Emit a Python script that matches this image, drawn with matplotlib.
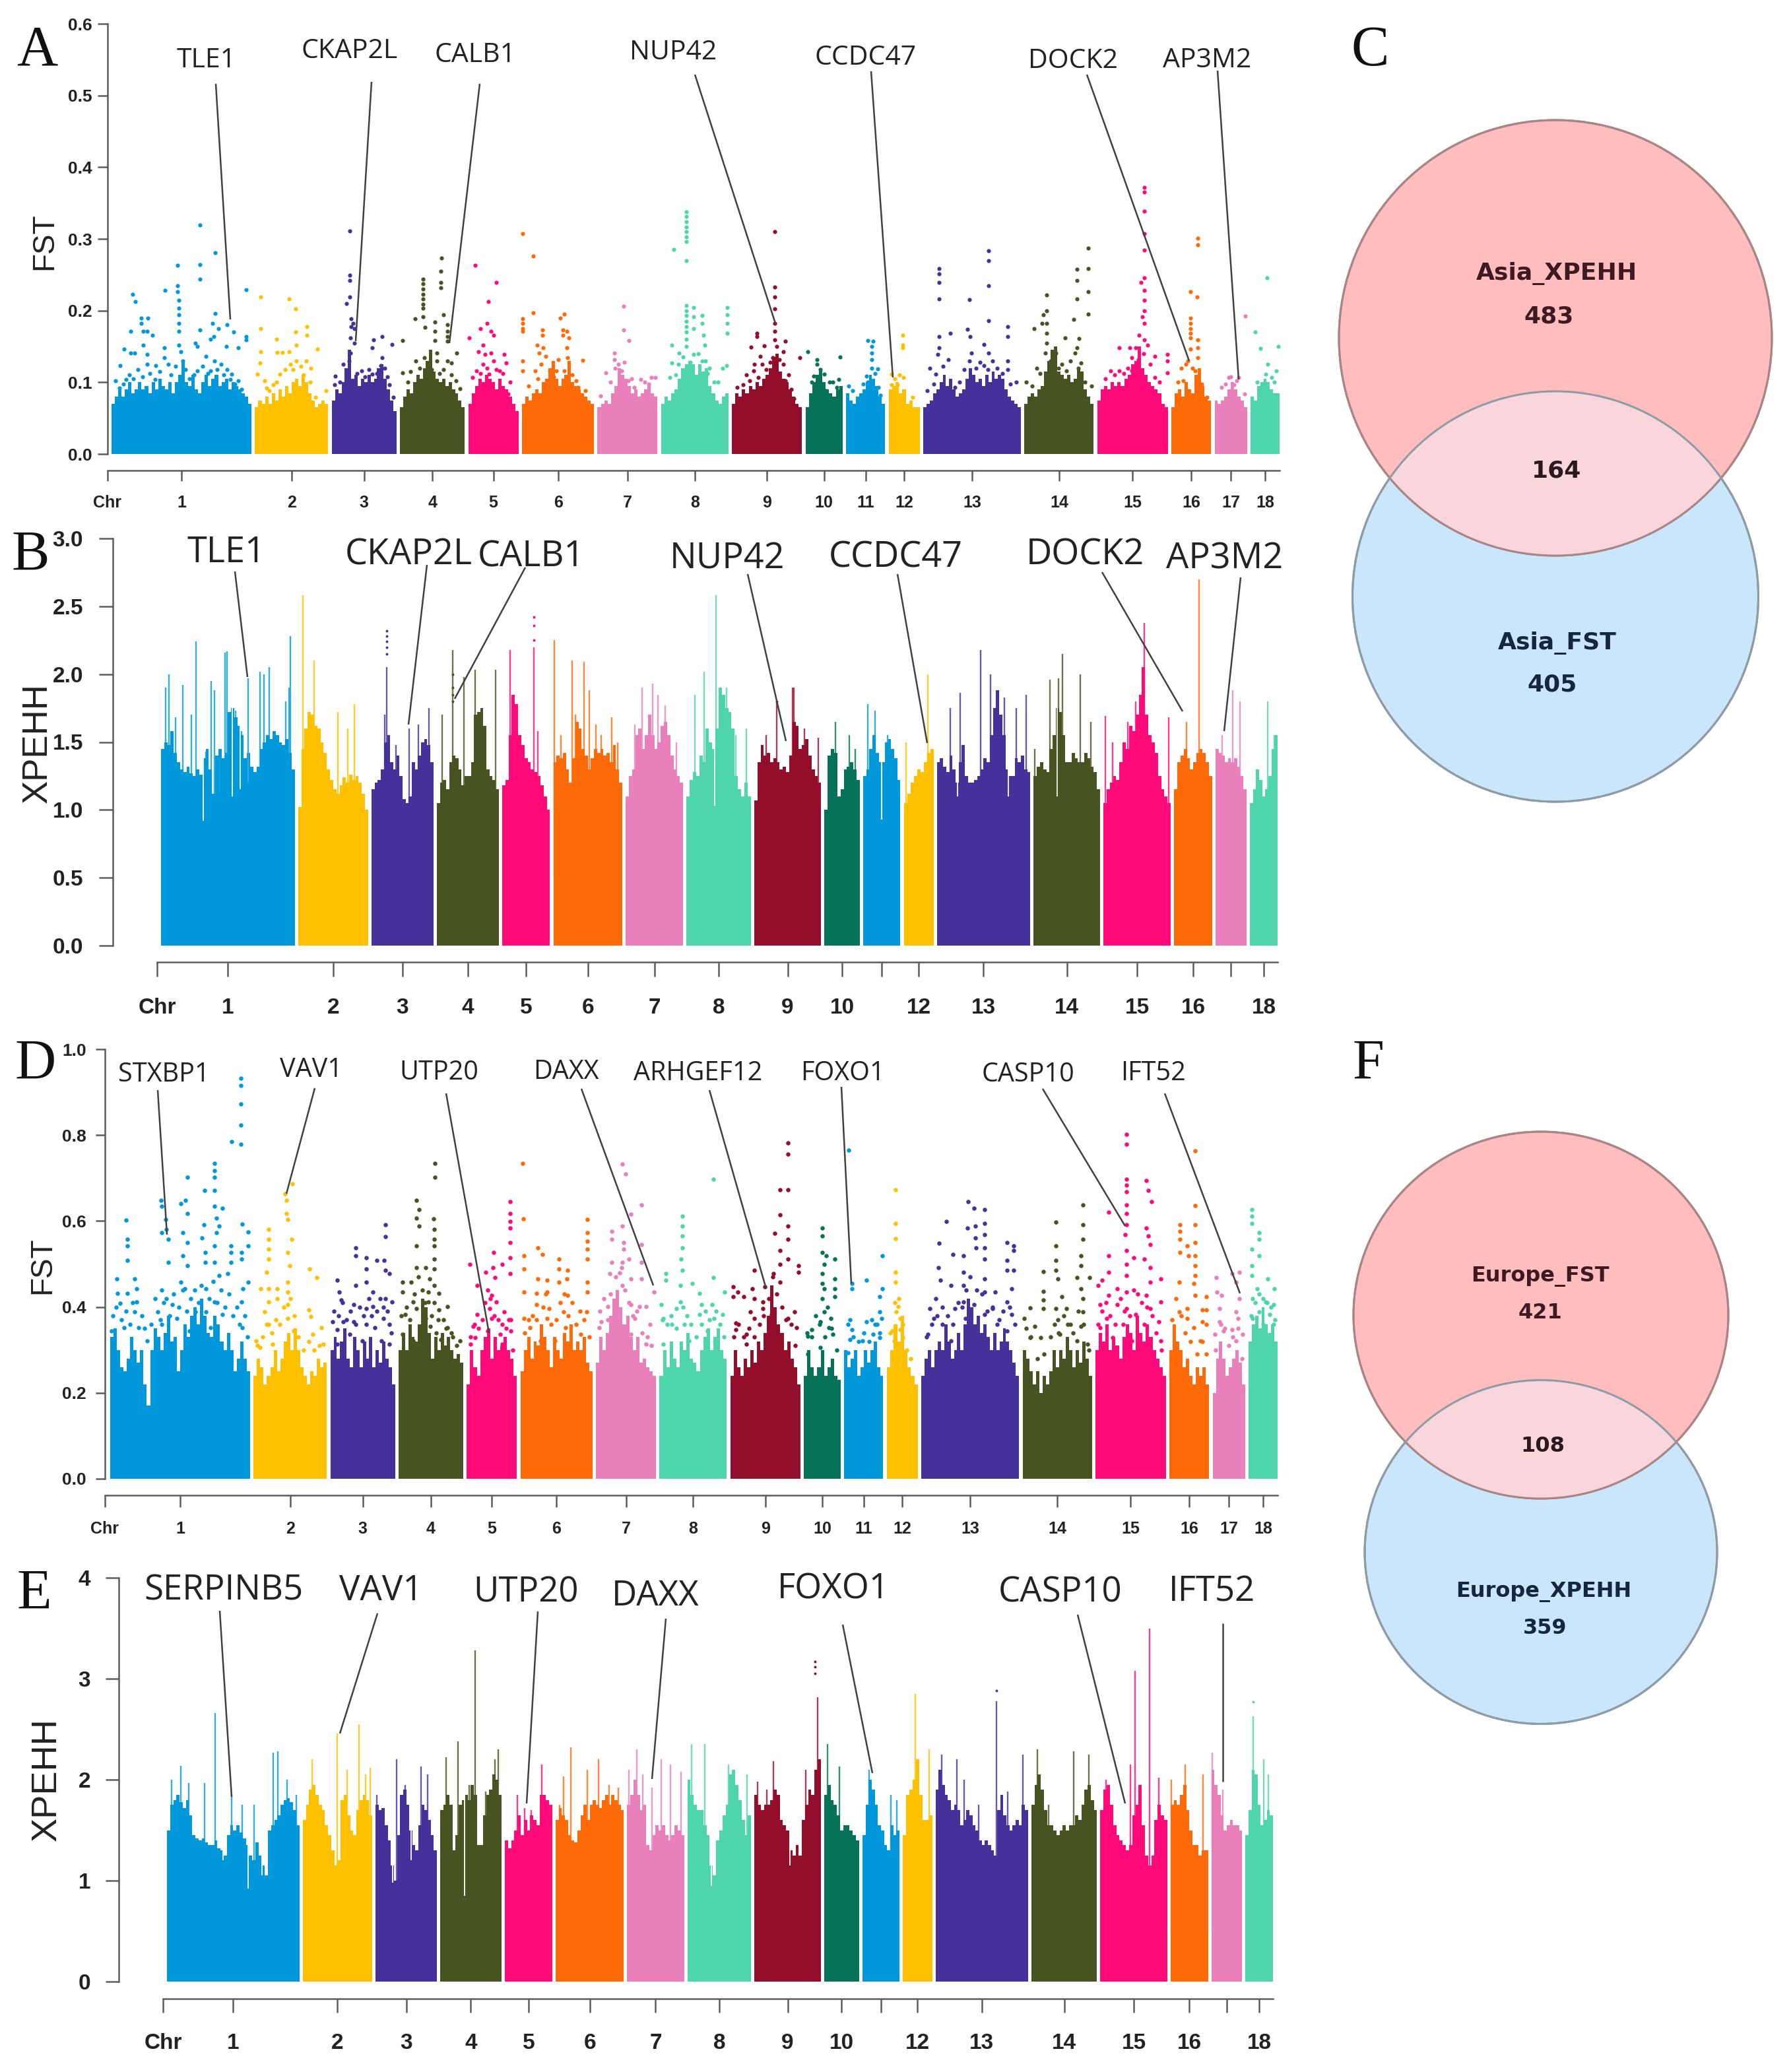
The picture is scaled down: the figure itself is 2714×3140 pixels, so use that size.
import numpy as np
import matplotlib
matplotlib.use("Agg")
import matplotlib.pyplot as plt
from matplotlib.patches import Ellipse

# chromosomes
chr_names = [str(i) for i in range(1, 19)]
chr_sizes = [212, 111, 98, 98, 76, 109, 91, 102, 106, 56, 59, 47, 148, 105, 107, 60, 49, 44]
chr_colors = ["#0098DB", "#FFC000", "#46309A", "#475321", "#FF0A78", "#FF6A08", "#E97FBB", "#4FD5AC", "#930E2B",
              "#067358", "#0098DB", "#FFC000", "#46309A", "#475321", "#FF0A78", "#FF6A08", "#E97FBB", "#4FD5AC"]

# panel A, FST. tops = solid body per bin, dots = (position on chromosome, value)
a_tops = [
    [.07, .08, .09, .08, .09, .10, .085, .09, .10, .09, .095, .085, .10, .09, .105, .095, .09, .10, .085, .10, .11, .13, .10, .095, .11, .09, .085, .10, .11, .095, .105, .11, .095, .10, .105, .09, .10, .095, .09, .085, .08, .07],
    [.065, .075, .07, .08, .07, .085, .075, .09, .08, .095, .085, .10, .105, .095, .11, .10, .085, .075, .065, .07, .075, .07],
    [.075, .09, .085, .10, .12, .145, .105, .11, .095, .105, .10, .11, .10, .105, .12, .125, .105, .09, .075, .06],
    [.065, .08, .09, .085, .10, .11, .105, .12, .13, .145, .115, .105, .10, .105, .095, .10, .09, .085, .075, .065],
    [.07, .085, .095, .105, .10, .11, .105, .10, .09, .105, .095, .09, .08, .07, .06],
    [.07, .08, .075, .085, .09, .085, .10, .105, .12, .13, .105, .095, .105, .11, .13, .10, .095, .09, .085, .08, .075, .07],
    [.065, .07, .075, .07, .085, .095, .12, .11, .105, .095, .085, .09, .08, .085, .09, .095, .085, .08],
    [.07, .08, .075, .085, .09, .105, .12, .125, .13, .125, .11, .125, .115, .12, .095, .085, .075, .07, .08, .085],
    [.07, .085, .08, .09, .085, .095, .09, .10, .095, .105, .11, .12, .135, .14, .115, .105, .10, .09, .08, .07, .065],
    [.065, .085, .10, .11, .12, .10, .09, .085, .08, .09, .095],
    [.085, .075, .07, .08, .085, .09, .10, .11, .105, .095, .08, .07],
    [.09, .095, .10, .085, .09, .07, .075, .065, .065],
    [.065, .07, .075, .085, .09, .10, .11, .095, .105, .09, .08, .085, .09, .105, .12, .11, .10, .105, .095, .11, .10, .115, .105, .11, .105, .09, .08, .075, .07, .065],
    [.07, .08, .085, .08, .09, .095, .115, .13, .145, .15, .115, .11, .105, .11, .10, .105, .12, .115, .09, .08, .07],
    [.075, .09, .095, .09, .10, .095, .10, .095, .105, .11, .125, .13, .15, .12, .11, .10, .095, .09, .085, .07, .065],
    [.065, .085, .09, .08, .10, .09, .085, .11, .12, .095, .08, .075],
    [.075, .07, .075, .08, .09, .10, .09, .08, .075, .065],
    [.08, .075, .095, .10, .105, .10, .09, .085, .085],
]
a_dots = [
    [(134, .319), (100, .263), (134, .264), (134, .244), (157, .281), (204, .229), (81, .228), (100, .235), (32, .223), (36, .213),
     (100, .226), (102, .214), (102, .203), (102, .194), (102, .182), (102, .171), (102, .152), (45, .19), (55, .19), (45, .182),
     (54, .171), (29, .171), (62, .166), (48, .171), (157, .196), (175, .18), (153, .182), (162, .175), (134, .173), (155, .164),
     (150, .16), (185, .17), (204, .164), (204, .159), (127, .155), (130, .15), (174, .15), (192, .148), (19, .146), (13, .123),
     (29, .141), (35, .141), (48, .152), (54, .139), (80, .148), (80, .134), (54, .125), (67, .123), (86, .125), (6, .102),
     (22, .104), (105, .143), (108, .13), (143, .136), (156, .13), (166, .125), (175, .118), (182, .111), (192, .102), (130, .116), (150, .116),
     (12, .092), (18, .098), (27, .11), (33, .105), (40, .118), (47, .108), (58, .112), (66, .104), (73, .115), (90, .11), (97, .122), (112, .118),
     (118, .105), (125, .11), (138, .122), (146, .112), (160, .118), (170, .11), (180, .104), (187, .098), (197, .09)],
    [(9, .219), (52, .216), (62, .202), (9, .175), (79, .178), (62, .17), (33, .16), (79, .166), (95, .146), (9, .143), (34, .142),
     (42, .142), (52, .143), (63, .152), (63, .13), (78, .13), (54, .125), (8, .127), (4, .111), (15, .102), (38, .111), (28, .097),
     (85, .12), (108, .088), (92, .079), (22, .088), (46, .118), (58, .118), (70, .122), (74, .11), (84, .1), (18, .092), (33, .1)],
    [(27, .311), (27, .249), (27, .242), (27, .219), (22, .21), (29, .189), (32, .182), (29, .178), (34, .175), (28, .162), (34, .155),
     (63, .159), (76, .164), (91, .153), (61, .148), (28, .141), (26, .13), (17, .125), (5, .109), (4, .097), (76, .134), (74, .123),
     (45, .116), (61, .111), (87, .097), (93, .079), (38, .112), (50, .108), (56, .118), (68, .112), (80, .12), (84, .108), (12, .1)],
    [(4, .158), (23, .189), (35, .191), (35, .244), (35, .237), (35, .23), (35, .223), (35, .216), (35, .209), (35, .203), (63, .273),
     (62, .255), (62, .239), (62, .232), (66, .194), (53, .184), (38, .177), (53, .171), (72, .18), (72, .171), (72, .164), (72, .157),
     (53, .158), (86, .141), (56, .141), (56, .13), (72, .13), (78, .127), (4, .113), (24, .13), (37, .134), (66, .118), (85, .102), (91, .091),
     (16, .115), (30, .12), (48, .118), (60, .112), (78, .11), (12, .1)],
    [(10, .263), (42, .239), (30, .213), (28, .182), (18, .175), (1, .162), (34, .171), (38, .166), (22, .152), (15, .143), (25, .139),
     (34, .141), (54, .139), (57, .127), (38, .13), (22, .125), (12, .116), (6, .107), (47, .116), (31, .111), (63, .1), (60, .084),
     (42, .118), (52, .112), (28, .12), (18, .112)],
    [(1, .307), (17, .276), (17, .197), (1, .189), (1, .182), (1, .175), (1, .171), (64, .195), (58, .19), (31, .173), (31, .166), (62, .173),
     (68, .171), (62, .166), (71, .162), (68, .148), (23, .152), (32, .148), (26, .141), (36, .136), (55, .132), (69, .134), (92, .131),
     (1, .13), (1, .116), (29, .125), (42, .116), (20, .116), (52, .116), (64, .116), (96, .088), (85, .093), (10, .095), (24, .105), (48, .108),
     (76, .11), (82, .102)],
    [(40, .206), (40, .173), (48, .158), (26, .141), (26, .132), (41, .128), (13, .113), (27, .12), (37, .116), (47, .102), (82, .107),
     (66, .104), (56, .093), (5, .081), (88, .107), (20, .1), (32, .125), (52, .105), (72, .1), (78, .098)],
    [(38, .338), (38, .331), (38, .324), (38, .317), (38, .31), (38, .303), (38, .296), (38, .27), (19, .285), (38, .207), (38, .2), (38, .193),
     (38, .185), (38, .178), (38, .17), (38, .16), (38, .15), (49, .204), (49, .191), (49, .175), (62, .193), (62, .182), (100, .204), (100, .194),
     (100, .182), (100, .168), (64, .166), (66, .152), (16, .152), (27, .141), (16, .127), (26, .125), (49, .139), (67, .13), (73, .12), (93, .12),
     (99, .123), (86, .1), (13, .107), (22, .11), (33, .135), (44, .128), (56, .14), (62, .13), (70, .112), (80, .1)],
    [(65, .31), (65, .233), (65, .219), (65, .202), (65, .182), (65, .171), (38, .168), (38, .164), (29, .149), (49, .151), (65, .159), (81, .157),
     (68, .15), (78, .143), (103, .134), (62, .134), (43, .136), (46, .125), (78, .125), (33, .116), (40, .107), (17, .097), (8, .093), (27, .102),
     (81, .102), (94, .077), (22, .11), (34, .125), (52, .118), (58, .128), (72, .132), (86, .11), (90, .09)],
    [(3, .143), (52, .135), (17, .132), (17, .125), (22, .118), (28, .111), (12, .109), (9, .1), (41, .1), (50, .104), (47, .093), (31, .088), (36, .1), (20, .105)],
    [(33, .158), (41, .157), (39, .15), (39, .141), (39, .132), (39, .12), (48, .119), (31, .109), (33, .1), (4, .095), (10, .088), (49, .093), (55, .065),
     (26, .098), (44, .112), (52, .082)],
    [(21, .166), (21, .152), (21, .148), (4, .111), (22, .107), (13, .097), (4, .097), (36, .079), (9, .105), (16, .11)],
    [(24, .259), (24, .251), (24, .239), (24, .216), (99, .283), (99, .27), (99, .235), (99, .186), (70, .215), (128, .178), (128, .164), (41, .168),
     (67, .174), (71, .164), (24, .164), (24, .148), (92, .153), (99, .141), (22, .139), (38, .132), (128, .13), (73, .141), (70, .13), (105, .13),
     (92, .123), (10, .12), (19, .111), (128, .118), (141, .1), (6, .088), (48, .093), (16, .098), (30, .122), (55, .1), (62, .118), (80, .12), (86, .128),
     (98, .118), (112, .12), (120, .112), (132, .098)],
    [(34, .222), (34, .2), (29, .194), (27, .182), (34, .182), (15, .175), (34, .168), (80, .258), (97, .287), (97, .259), (80, .242), (97, .226),
     (80, .216), (97, .195), (75, .188), (62, .162), (83, .161), (80, .148), (34, .155), (32, .141), (48, .141), (77, .141), (3, .1), (19, .12),
     (57, .125), (86, .127), (102, .095), (64, .116), (12, .095), (24, .112), (40, .13), (52, .12), (70, .13), (82, .12), (92, .1)],
    [(71, .372), (71, .365), (71, .339), (71, .307), (71, .284), (71, .246), (66, .239), (71, .228), (71, .214), (71, .2), (68, .191), (71, .182),
     (63, .166), (71, .159), (76, .152), (49, .148), (33, .148), (58, .148), (52, .134), (20, .116), (33, .116), (52, .116), (87, .136), (106, .139),
     (106, .13), (106, .113), (80, .125), (87, .107), (12, .105), (26, .11), (40, .112), (46, .12), (62, .132), (70, .14), (94, .1)],
    [(40, .301), (40, .292), (29, .226), (39, .219), (29, .19), (29, .182), (29, .175), (29, .168), (29, .162), (40, .159), (40, .148), (29, .146),
     (40, .134), (22, .125), (15, .12), (25, .13), (36, .116), (18, .102), (54, .079), (10, .1), (32, .12), (46, .098)],
    [(46, .192), (21, .107), (36, .107), (10, .093), (29, .097), (45, .084), (16, .098), (24, .108), (33, .102)],
    [(25, .246), (7, .17), (15, .147), (42, .15), (26, .125), (39, .116), (23, .111), (10, .1), (32, .107), (20, .095), (36, .1)],
]

# panel B, XPEHH. spikes = (position, height), slits = (position, bottom of the gap)
b_tops = [
    [1.45, 1.50, 1.48, 1.58, 1.42, 1.35, 1.30, 1.28, 1.32, 1.27, 1.25, 1.30, 1.26, 1.38, 1.45, 1.30, 1.12, 1.40, 1.45, 1.38, 1.42, 1.72, 1.75, 1.68, 1.62, 1.55, 1.38, 1.42, 1.32, 1.28, 1.32, 1.45, 1.50, 1.55, 1.52, 1.58, 1.55, 1.50, 1.48, 1.52, 1.42, 1.30],
    [1.02, 1.45, 1.60, 1.72, 1.70, 1.62, 1.60, 1.50, 1.42, 1.30, 1.22, 1.15, 1.12, 1.18, 1.24, 1.20, 1.26, 1.22, 1.25, 1.20, 1.12, 1.00],
    [1.15, 1.20, 1.22, 1.30, 1.50, 1.55, 1.35, 1.30, 1.40, 1.25, 1.08, 1.05, 1.10, 1.35, 1.30, 1.40, 1.50, 1.52, 1.48, 1.35],
    [1.05, 1.20, 1.22, 1.15, 1.35, 1.40, 1.38, 1.30, 1.18, 1.25, 1.25, 1.35, 1.70, 1.72, 1.75, 1.62, 1.30, 1.25, 1.22, 1.15],
    [1.18, 1.22, 1.55, 1.85, 1.78, 1.55, 1.48, 1.38, 1.35, 1.30, 1.28, 1.25, 1.18, 1.10, 1.00],
    [1.35, 1.40, 1.38, 1.42, 1.30, 1.20, 1.38, 1.65, 1.60, 1.45, 1.40, 1.30, 1.38, 1.45, 1.42, 1.45, 1.40, 1.42, 1.35, 1.48, 1.30, 1.20],
    [1.10, 1.25, 1.30, 1.55, 1.60, 1.45, 1.55, 1.70, 1.55, 1.45, 1.50, 1.62, 1.65, 1.55, 1.40, 1.30, 1.25, 1.20],
    [1.10, 1.22, 1.28, 1.25, 1.40, 1.35, 1.60, 1.50, 1.45, 1.60, 1.90, 1.85, 1.75, 1.72, 1.60, 1.25, 1.15, 1.10, 1.20, 1.10],
    [1.07, 1.35, 1.48, 1.40, 1.42, 1.35, 1.38, 1.35, 1.30, 1.32, 1.28, 1.40, 1.65, 1.62, 1.45, 1.48, 1.52, 1.40, 1.30, 1.25, 1.20],
    [1.00, 1.40, 1.45, 1.42, 1.10, 1.15, 1.30, 1.32, 1.35, 1.30, 1.22],
    [1.25, 1.30, 1.45, 1.55, 1.42, 1.35, 1.35, 1.50, 1.52, 1.45, 1.38, 1.22],
    [1.05, 1.12, 1.20, 1.25, 1.30, 1.28, 1.35, 1.42, 1.45],
    [1.35, 1.38, 1.32, 1.28, 1.40, 1.30, 1.20, 1.35, 1.48, 1.25, 1.20, 1.20, 1.22, 1.25, 1.30, 1.38, 1.35, 1.55, 1.75, 1.88, 1.70, 1.55, 1.30, 1.25, 1.25, 1.38, 1.35, 1.40, 1.30, 1.28],
    [1.25, 1.32, 1.35, 1.30, 1.28, 1.45, 1.55, 1.75, 1.72, 1.55, 1.35, 1.35, 1.42, 1.38, 1.35, 1.35, 1.42, 1.38, 1.32, 1.28, 1.15],
    [1.05, 1.15, 1.20, 1.25, 1.22, 1.35, 1.50, 1.45, 1.62, 1.58, 1.70, 1.85, 2.05, 1.70, 1.55, 1.50, 1.42, 1.25, 1.15, 1.10, 1.05],
    [1.15, 1.35, 1.40, 1.45, 1.38, 1.30, 1.35, 1.42, 1.45, 1.42, 1.35, 1.25],
    [1.45, 1.42, 1.40, 1.35, 1.38, 1.35, 1.38, 1.32, 1.25, 1.15],
    [1.05, 1.15, 1.30, 1.22, 1.10, 1.15, 1.25, 1.45, 1.55],
]
b_spikes = [
    [(7, 1.90), (13, 2.0), (23, 1.68), (35, 1.92), (48, 1.70), (55, 2.24), (71, 1.43), (79, 1.95), (85, 1.88), (101, 2.16), (105, 2.17),
     (118, 1.73), (128, 1.58), (138, 1.97), (157, 2.02), (163, 2.0), (172, 2.05), (198, 1.8), (203, 1.9), (205, 2.28)],
    [(8, 2.58), (25, 2.1), (35, 1.58), (63, 1.72), (79, 1.6), (89, 1.78)],
    [(24, 2.05), (21, 1.7), (39, 1.48), (59, 1.6), (74, 1.63), (91, 1.75)],
    [(8, 1.7), (25, 2.18), (43, 1.98), (61, 2.03), (93, 2.03)],
    [(13, 2.18), (50, 2.2), (57, 1.58)],
    [(1, 2.25), (12, 1.55), (30, 2.1), (35, 1.7), (48, 2.09), (57, 1.88), (67, 1.63), (76, 1.55), (92, 1.68), (102, 1.5)],
    [(15, 1.63), (26, 1.9), (43, 1.93), (51, 1.85), (63, 1.77), (81, 1.5)],
    [(13, 1.85), (28, 2.02), (47, 2.58), (64, 1.9), (78, 1.55), (95, 1.6)],
    [(36, 1.8), (61, 1.9), (63, 1.9), (80, 1.6), (102, 1.53), (19, 1.55)],
    [(17, 1.65), (39, 1.55), (49, 1.45)],
    [(7, 1.78), (19, 1.73), (39, 1.55)],
    [(3, 1.5), (38, 2.0)],
    [(21, 1.75), (37, 1.86), (69, 2.18), (85, 2.0), (107, 1.83), (126, 1.75), (142, 1.85)],
    [(26, 1.96), (39, 1.97), (46, 2.15), (74, 2.0), (91, 1.65), (2, 1.45)],
    [(3, 1.69), (15, 1.5), (39, 1.65), (51, 1.8), (65, 2.38), (75, 1.55), (104, 1.68)],
    [(19, 1.65), (39, 2.7)],
    [(11, 1.55), (27, 1.88), (39, 1.8)],
    [(28, 1.8), (39, 1.55)],
]
b_slits = [[(67, .92), (113, 1.1), (125, 1.15), (138, 1.2)], [], [], [], [], [], [], [(45, 1.03)], [], [], [(29, .93)], [],
           [(33, 1.1), (113, 1.1)], [(37, 1.1)], [], [], [], []]
b_dots = [[], [], [(24, 2.32), (24, 2.28), (24, 2.24), (24, 2.2), (24, 2.15)], [(25, 2.0), (25, 1.9), (25, 1.85), (25, 1.8)],
          [(50, 2.42), (50, 2.36), (50, 2.25)], [], [], [], [(36, 1.8)], [], [], [], [], [], [], [], [], []]

# panel D, FST
d_tops = [
    [.33, .35, .30, .26, .25, .28, .33, .30, .27, .30, .22, .17, .30, .35, .33, .30, .34, .38, .32, .33, .25, .30, .36, .33, .38, .40, .36, .42, .38, .34, .33, .38, .36, .32, .30, .34, .30, .25, .28, .32, .28, .25],
    [.24, .28, .26, .22, .24, .26, .30, .25, .28, .32, .34, .30, .35, .30, .26, .24, .22, .25, .24, .28, .26, .27],
    [.30, .33, .28, .32, .35, .28, .26, .33, .30, .26, .32, .28, .33, .26, .30, .27, .32, .28, .26, .22],
    [.30, .34, .30, .36, .33, .32, .36, .42, .40, .34, .28, .33, .30, .34, .31, .33, .30, .28, .29, .27],
    [.22, .30, .26, .24, .30, .33, .35, .28, .33, .30, .31, .33, .30, .28, .24],
    [.25, .30, .33, .28, .32, .31, .36, .33, .30, .26, .33, .30, .28, .34, .32, .36, .30, .32, .30, .33, .27, .25],
    [.27, .33, .30, .34, .38, .42, .44, .40, .36, .38, .33, .30, .33, .27, .28, .26, .25, .24],
    [.24, .30, .26, .32, .28, .26, .32, .30, .34, .28, .27, .25, .30, .33, .35, .30, .33, .35, .30, .28],
    [.24, .30, .26, .24, .28, .26, .30, .27, .32, .30, .34, .38, .45, .40, .36, .34, .30, .32, .28, .26, .22],
    [.24, .30, .26, .24, .26, .30, .24, .26, .28, .24, .23],
    [.30, .26, .28, .30, .24, .26, .30, .27, .30, .32, .26, .24],
    [.26, .30, .36, .32, .38, .30, .26, .24, .22],
    [.24, .28, .30, .26, .30, .32, .30, .36, .32, .28, .30, .34, .30, .36, .42, .40, .36, .38, .34, .36, .33, .30, .34, .30, .32, .35, .32, .30, .27, .24],
    [.30, .28, .25, .22, .25, .20, .24, .22, .25, .30, .26, .30, .28, .33, .30, .26, .30, .27, .32, .28, .24],
    [.30, .34, .32, .36, .30, .33, .31, .28, .33, .36, .34, .30, .38, .34, .32, .36, .33, .30, .28, .26, .24],
    [.30, .36, .32, .30, .26, .28, .24, .22, .26, .24, .26, .22],
    [.20, .28, .32, .28, .24, .26, .28, .30, .27, .22],
    [.32, .36, .38, .35, .40, .36, .34, .36, .32],
]
d_dots = [
    [(198, .933), (198, .916), (198, .872), (198, .824), (198, .779), (184, .785), (158, .734), (158, .718), (158, .702), (158, .672), (143, .672),
     (117, .702), (114, .649), (107, .641), (77, .649), (78, .634), (84, .603), (85, .58), (78, .573), (88, .557), (24, .602), (26, .557), (26, .542),
     (26, .508), (158, .634), (170, .63), (161, .607), (165, .588), (142, .592), (161, .573), (139, .561), (200, .593), (209, .574), (209, .542),
     (183, .542), (199, .527), (183, .527), (183, .504), (199, .511), (144, .527), (144, .504), (158, .542), (158, .504), (88, .504), (117, .618),
     (110, .573), (117, .55), (110, .519), (117, .496), (107, .458), (113, .443), (165, .473), (178, .477), (209, .458), (201, .443), (199, .412),
     (10, .466), (37, .466), (40, .443), (11, .431), (26, .431), (15, .408), (40, .412), (37, .389), (78, .439), (85, .42), (72, .389), (94, .405),
     (145, .443), (158, .412), (129, .389), (145, .389), (170, .382), (101, .374), (56, .321), (21, .351), (2, .344), (43, .351), (200, .351),
     (120, .344), (78, .359), (152, .351)],
    [(59, .687), (48, .664), (50, .649), (50, .618), (52, .603), (23, .58), (23, .557), (23, .534), (23, .511), (58, .557), (52, .527), (55, .496),
     (85, .489), (96, .469), (20, .481), (23, .443), (36, .443), (52, .458), (52, .435), (11, .443), (23, .412), (36, .42), (52, .405), (84, .393),
     (87, .378), (52, .374), (17, .389), (103, .351), (90, .336), (23, .359), (4, .321), (61, .344), (106, .313), (10, .305), (29, .313)],
    [(83, .592), (83, .563), (38, .537), (38, .519), (54, .515), (70, .509), (81, .508), (54, .489), (83, .485), (89, .477), (10, .462), (13, .435),
     (16, .416), (38, .45), (54, .458), (64, .435), (83, .42), (93, .412), (35, .405), (54, .397), (64, .401), (3, .366), (19, .366), (10, .347),
     (35, .366), (54, .359), (80, .374), (67, .351), (29, .336), (89, .359), (77, .321), (48, .321), (10, .313), (89, .313)],
    [(55, .734), (55, .702), (27, .649), (31, .626), (27, .607), (31, .588), (53, .605), (54, .58), (54, .557), (54, .542), (27, .542), (54, .511),
     (54, .489), (27, .492), (41, .492), (47, .466), (54, .45), (6, .458), (19, .458), (6, .435), (45, .435), (61, .431), (45, .412), (22, .412),
     (27, .397), (74, .401), (61, .393), (41, .374), (48, .355), (74, .351), (10, .382), (80, .34), (57, .34), (64, .324), (6, .336), (22, .321), (93, .321)],
    [(66, .645), (66, .618), (66, .599), (66, .584), (66, .55), (66, .515), (41, .527), (5, .5), (54, .5), (40, .492), (29, .481), (43, .469), (66, .477),
     (16, .45), (32, .439), (38, .427), (45, .412), (35, .397), (57, .389), (16, .382), (38, .374), (67, .37), (10, .355), (32, .344), (51, .336),
     (67, .344), (13, .328), (32, .313), (54, .313), (6, .313)],
    [(3, .734), (4, .605), (101, .603), (101, .573), (101, .553), (101, .534), (101, .511), (5, .519), (26, .538), (33, .523), (58, .511), (58, .489),
     (71, .485), (70, .466), (5, .489), (26, .466), (40, .462), (101, .458), (58, .458), (5, .435), (24, .431), (40, .435), (71, .427), (101, .435),
     (100, .389), (5, .374), (24, .405), (43, .397), (65, .389), (40, .374), (14, .351), (68, .351), (91, .336), (52, .321), (30, .321)],
    [(40, .733), (45, .71), (69, .637), (53, .616), (40, .588), (24, .576), (24, .557), (42, .55), (69, .546), (42, .534), (24, .504), (40, .504),
     (50, .511), (69, .504), (39, .492), (21, .477), (53, .466), (69, .466), (40, .45), (88, .435), (18, .401), (53, .405), (66, .401), (76, .401),
     (8, .366), (5, .351), (59, .374), (82, .359), (53, .336), (76, .313)],
    [(82, .698), (35, .611), (35, .588), (35, .565), (35, .538), (33, .511), (10, .477), (10, .462), (82, .469), (35, .485), (50, .454), (3, .405),
     (61, .431), (99, .435), (32, .45), (32, .412), (6, .374), (26, .397), (19, .359), (64, .405), (80, .405), (61, .382), (83, .374), (96, .382),
     (38, .359), (73, .344), (45, .321), (6, .313)],
    [(87, .782), (87, .756), (75, .673), (87, .673), (75, .615), (87, .588), (87, .557), (67, .571), (75, .531), (87, .511), (103, .496), (103, .481),
     (36, .485), (75, .5), (65, .477), (4, .447), (11, .435), (4, .424), (33, .443), (52, .447), (36, .42), (49, .412), (20, .424), (75, .458), (97, .389),
     (87, .374), (30, .389), (49, .397), (8, .363), (8, .347), (100, .351), (24, .336), (36, .374), (62, .382), (24, .313)],
    [(28, .584), (28, .565), (28, .527), (34, .519), (47, .511), (31, .5), (28, .477), (28, .454), (47, .466), (31, .443), (47, .443), (28, .42), (47, .424),
     (31, .389), (41, .374), (25, .366), (12, .347), (38, .351), (44, .336), (6, .332), (6, .29), (25, .305)],
    [(7, .765), (58, .519), (34, .462), (12, .454), (12, .443), (58, .443), (54, .424), (9, .37), (12, .347), (34, .366), (47, .359), (9, .324), (54, .389),
     (57, .374), (28, .321), (44, .336), (54, .328), (6, .294)],
    [(13, .673), (13, .595), (13, .559), (13, .481), (13, .458), (17, .401), (20, .374), (14, .389), (20, .347), (8, .344), (24, .328), (11, .321)],
    [(71, .645), (80, .63), (96, .627), (38, .599), (82, .588), (96, .595), (70, .584), (82, .561), (96, .569), (27, .548), (130, .55), (140, .542),
     (140, .531), (83, .538), (96, .538), (48, .523), (64, .519), (130, .508), (96, .511), (26, .492), (130, .486), (140, .486), (64, .481), (96, .466),
     (29, .462), (137, .443), (45, .45), (64, .45), (112, .435), (96, .435), (22, .42), (64, .412), (80, .405), (108, .397), (130, .412), (13, .397),
     (51, .397), (96, .382), (137, .382), (19, .374), (67, .374), (115, .359), (10, .336), (32, .359), (77, .344), (130, .344), (45, .321), (96, .321)],
    [(91, .637), (50, .597), (91, .592), (91, .557), (50, .542), (88, .519), (50, .508), (88, .496), (31, .483), (50, .485), (53, .466), (82, .469),
     (101, .469), (88, .443), (31, .437), (59, .424), (91, .42), (31, .416), (11, .398), (31, .397), (50, .397), (66, .397), (2, .374), (91, .389),
     (53, .37), (18, .355), (72, .359), (88, .355), (11, .328), (27, .328), (56, .336), (98, .313), (82, .321)],
    [(47, .802), (47, .779), (47, .698), (47, .683), (47, .668), (77, .695), (80, .672), (85, .645), (47, .637), (20, .62), (47, .618), (47, .592),
     (77, .584), (80, .565), (45, .569), (83, .546), (47, .531), (20, .519), (58, .514), (74, .511), (83, .492), (47, .5), (20, .481), (99, .466), (47, .473),
     (10, .462), (83, .458), (4, .45), (33, .443), (20, .427), (47, .435), (99, .412), (77, .427), (7, .405), (33, .405), (83, .397), (47, .397), (17, .374),
     (61, .382), (96, .366), (7, .351), (42, .359), (74, .359), (26, .328), (99, .321), (55, .321)],
    [(39, .763), (39, .636), (39, .592), (16, .592), (16, .576), (16, .557), (39, .55), (16, .527), (27, .542), (39, .519), (29, .519), (39, .496), (39, .473),
     (15, .458), (37, .454), (39, .427), (56, .424), (27, .397), (50, .393), (56, .393), (15, .389), (50, .366), (27, .374), (37, .351), (56, .359), (47, .321)],
    [(5, .468), (40, .481), (29, .477), (35, .458), (6, .435), (13, .427), (40, .42), (10, .397), (35, .389), (38, .374), (10, .366), (29, .347), (3, .336),
     (45, .336), (16, .344), (35, .321)],
    [(5, .626), (5, .611), (5, .595), (16, .573), (16, .557), (5, .534), (16, .519), (5, .496), (29, .466), (5, .473), (39, .443), (13, .443), (6, .42), (26, .412),
     (38, .405), (16, .389), (32, .382), (6, .374), (22, .359), (38, .359)],
]
# the denser cloud just above the solid part of panel D
d_cloud = [
    [(4, .38), (9, .4), (17, .37), (24, .39), (30, .36), (34, .41), (48, .38), (52, .35), (62, .36), (68, .42), (76, .37), (81, .41), (90, .38), (96, .43), (104, .4), (110, .44),
     (116, .39), (122, .42), (128, .44), (134, .41), (138, .45), (150, .42), (156, .46), (162, .41), (168, .44), (174, .4), (180, .43), (186, .38), (192, .4), (196, .36), (204, .38), (208, .33)],
    [(6, .31), (14, .33), (20, .36), (28, .34), (34, .37), (40, .36), (46, .4), (56, .42), (62, .38), (68, .33), (76, .3), (84, .32), (92, .3), (100, .31)],
    [(5, .39), (12, .38), (18, .41), (24, .37), (30, .39), (38, .36), (44, .4), (50, .38), (58, .42), (62, .38), (70, .39), (75, .42), (80, .4), (86, .39), (92, .34)],
    [(4, .38), (12, .4), (17, .37), (24, .43), (30, .47), (36, .44), (40, .41), (50, .38), (54, .41), (60, .37), (68, .37), (72, .35), (82, .33), (88, .31)],
    [(6, .33), (12, .36), (18, .35), (24, .37), (28, .41), (36, .42), (42, .38), (48, .37), (54, .36), (60, .35), (64, .37), (70, .3)],
    [(6, .34), (12, .37), (18, .38), (24, .37), (34, .4), (38, .43), (46, .36), (54, .37), (60, .41), (66, .43), (72, .38), (78, .41), (84, .36), (90, .39), (96, .37), (104, .33)],
    [(6, .39), (12, .42), (18, .37), (22, .43), (30, .47), (36, .48), (44, .44), (50, .41), (56, .38), (62, .39), (70, .34), (78, .33), (84, .31)],
    [(5, .37), (12, .36), (18, .38), (26, .35), (36, .4), (42, .38), (48, .36), (56, .33), (64, .36), (70, .39), (76, .37), (86, .39), (92, .36), (98, .33)],
    [(5, .33), (12, .36), (20, .33), (28, .35), (36, .33), (44, .36), (50, .38), (58, .42), (64, .47), (70, .43), (78, .4), (84, .37), (92, .36), (98, .31)],
    [(5, .34), (12, .33), (18, .38), (24, .36), (32, .33), (36, .4), (42, .35), (50, .3)],
    [(6, .36), (14, .33), (22, .32), (30, .34), (38, .32), (42, .37), (50, .36), (54, .34)],
    [(5, .34), (12, .41), (18, .42), (24, .36), (30, .3), (36, .28)],
    [(8, .33), (16, .36), (24, .38), (32, .4), (40, .38), (48, .36), (56, .41), (62, .4), (68, .44), (74, .47), (84, .44), (92, .43), (100, .39), (108, .4), (118, .37), (124, .39), (134, .4), (142, .36)],
    [(5, .35), (12, .33), (22, .28), (32, .29), (42, .33), (48, .36), (54, .34), (62, .38), (68, .36), (76, .34), (84, .39), (92, .36), (100, .3)],
    [(4, .36), (10, .39), (16, .41), (22, .38), (30, .36), (38, .42), (44, .39), (52, .38), (58, .44), (64, .43), (70, .41), (78, .4), (86, .38), (92, .34), (100, .3)],
    [(4, .37), (10, .42), (18, .38), (24, .34), (32, .32), (42, .29), (50, .32), (56, .29)],
    [(4, .3), (12, .36), (18, .35), (24, .31), (30, .33), (38, .35), (44, .28)],
    [(4, .38), (10, .41), (16, .43), (22, .42), (28, .41), (34, .4), (40, .37)],
]

# panel E, XPEHH
e_tops = [
    [1.50, 1.75, 1.80, 1.85, 1.78, 1.72, 1.80, 1.65, 1.45, 1.42, 1.40, 1.42, 1.38, 1.35, 1.35, 1.40, 1.32, 1.30, 1.25, 1.45, 1.55, 1.50, 1.55, 1.48, 1.42, 1.35, 1.25, 1.20, 1.38, 1.25, 1.15, 1.05, 1.50, 1.55, 1.60, 1.65, 1.75, 1.80, 1.82, 1.78, 1.70, 1.55],
    [1.60, 1.75, 1.90, 1.95, 1.85, 1.75, 1.70, 1.55, 1.45, 1.30, 1.15, 1.20, 1.80, 1.85, 1.65, 1.50, 1.45, 1.70, 1.80, 1.85, 1.80, 1.65],
    [1.75, 1.70, 1.72, 1.55, 1.40, 1.15, 1.00, 1.45, 1.85, 1.90, 1.75, 1.50, 1.35, 1.30, 1.55, 1.75, 1.70, 1.60, 1.45, 1.30],
    [1.70, 1.75, 1.85, 1.75, 1.30, 1.45, 1.75, 1.80, 1.85, 1.80, 1.95, 1.85, 1.35, 1.35, 1.65, 1.85, 1.90, 2.05, 2.00, 1.85],
    [1.40, 1.32, 1.40, 1.50, 1.65, 1.45, 1.60, 1.50, 1.65, 1.60, 1.55, 1.85, 1.85, 1.80, 1.75],
    [1.60, 1.72, 1.65, 1.60, 1.45, 1.40, 1.38, 1.50, 1.65, 1.75, 1.60, 1.75, 1.80, 1.75, 1.72, 1.80, 1.85, 1.75, 1.85, 1.80, 1.75, 1.70],
    [1.75, 1.85, 2.00, 1.85, 1.70, 1.75, 1.35, 1.30, 1.45, 1.55, 1.50, 1.55, 1.45, 1.40, 1.45, 1.55, 1.50, 1.45],
    [2.00, 1.85, 1.75, 1.70, 1.70, 1.55, 1.45, 1.15, 1.05, 1.40, 1.50, 1.65, 1.75, 2.05, 2.10, 1.95, 1.80, 1.60, 1.45, 1.65],
    [1.85, 1.75, 1.70, 1.75, 1.75, 1.80, 1.90, 1.85, 1.60, 1.55, 1.50, 1.30, 1.25, 1.35, 1.25, 1.60, 1.75, 1.90, 1.85, 2.10, 2.20],
    [1.85, 1.95, 1.80, 1.75, 1.65, 1.50, 1.55, 1.55, 1.50, 1.45, 1.40],
    [1.45, 1.75, 2.00, 1.90, 1.75, 1.55, 1.50, 1.35, 1.30, 1.55, 1.45, 1.50],
    [1.45, 1.85, 1.90, 2.00, 2.20, 1.85, 1.60, 1.60, 1.65],
    [1.90, 2.10, 1.95, 1.85, 1.80, 1.70, 1.75, 1.70, 1.55, 1.60, 1.70, 1.65, 1.55, 1.50, 1.40, 1.35, 1.40, 1.35, 1.30, 1.25, 1.70, 1.85, 1.65, 1.55, 1.50, 1.55, 1.60, 1.55, 1.75, 1.70],
    [1.75, 1.95, 2.05, 1.90, 1.70, 1.55, 1.55, 1.50, 1.45, 1.50, 1.55, 1.50, 1.55, 1.55, 1.65, 1.60, 1.75, 1.90, 1.95, 1.80, 1.70],
    [1.70, 1.90, 1.95, 1.75, 1.55, 1.45, 1.40, 1.35, 1.30, 1.35, 1.65, 1.75, 1.95, 1.55, 1.25, 1.15, 1.25, 1.60, 1.75, 1.65, 1.60],
    [1.75, 1.80, 1.75, 1.85, 1.95, 1.70, 1.50, 1.35, 1.35, 1.25, 1.30, 1.30],
    [2.10, 1.95, 1.85, 1.65, 1.50, 1.55, 1.60, 1.55, 1.55, 1.50],
    [1.45, 1.70, 2.10, 2.05, 1.75, 1.55, 1.60, 1.70, 1.65],
]
e_spikes = [
    [(7, 2.0), (22, 2.14), (35, 1.97), (60, 1.97), (77, 2.66), (103, 1.85), (120, 1.75), (139, 1.75), (170, 2.27), (177, 2.28), (192, 2.0), (207, 1.85)],
    [(15, 2.2), (55, 2.46), (71, 2.1), (90, 2.55), (108, 2.12), (100, 2.05)],
    [(2, 1.85), (34, 2.2), (47, 1.95), (73, 2.13), (83, 2.05)],
    [(9, 2.22), (28, 2.38), (56, 3.28), (46, 1.95), (73, 1.88), (88, 2.2), (93, 2.3)],
    [(20, 1.85), (32, 1.72), (59, 2.15), (42, 1.7)],
    [(6, 1.75), (13, 2.03), (24, 2.32), (51, 2.1), (69, 2.2), (85, 1.95), (100, 1.92)],
    [(3, 2.1), (15, 2.3), (25, 2.05), (40, 1.92), (55, 2.2), (69, 2.15), (86, 2.08)],
    [(7, 2.35), (28, 2.35), (66, 2.15), (95, 2.05)],
    [(5, 1.98), (20, 1.9), (30, 2.18), (82, 2.1), (101, 2.82)],
    [(5, 2.35), (24, 2.13)],
    [(11, 2.1), (45, 1.85), (55, 1.8)],
    [(20, 2.85), (42, 2.3)],
    [(10, 2.25), (34, 2.2), (46, 2.0), (69, 1.75), (98, 2.78), (115, 1.88), (140, 2.25)],
    [(10, 2.3), (28, 1.75), (68, 2.28), (92, 2.25)],
    [(9, 2.0), (48, 2.15), (56, 3.08), (79, 3.5), (94, 2.02)],
    [(1, 2.0), (23, 2.15), (52, 2.05)],
    [(1, 2.27), (18, 1.9)],
    [(12, 2.63), (29, 2.2), (37, 2.05)],
]
e_slits = [[(130, .92), (152, 1.05), (90, 1.2)], [], [(27, .98), (57, 1.2)], [(39, .85)], [], [], [], [(38, .95)], [(57, 1.15)],
           [], [], [], [], [], [], [], [], []]
e_dots = [[], [], [], [], [], [], [], [], [(97, 3.17), (97, 3.12), (97, 3.05)], [], [], [], [(98, 2.88)], [], [], [], [], [(12, 2.77)]]

# venn counts
c_names = ["Asia_XPEHH", "Asia_FST"]
c_counts = [483, 405, 164]
f_names = ["Europe_FST", "Europe_XPEHH"]
f_counts = [421, 359, 108]

# gene labels
a_genes = ["TLE1", "CKAP2L", "CALB1", "NUP42", "CCDC47", "DOCK2", "AP3M2"]
b_genes = a_genes
d_genes = ["STXBP1", "VAV1", "UTP20", "DAXX", "ARHGEF12", "FOXO1", "CASP10", "IFT52"]
e_genes = ["SERPINB5", "VAV1", "UTP20", "DAXX", "FOXO1", "CASP10", "IFT52"]

# layout in image pixels: label x, label y, then leader line x0, y0, x1, y1
a_layout = [(313, 92, 327, 127, 349, 484), (530, 78, 563, 124, 539, 517), (720, 84, 727, 127, 681, 520), (1020, 80, 1053, 113, 1175, 490),
            (1312, 88, 1320, 108, 1353, 572), (1626, 93, 1647, 113, 1802, 547), (1829, 92, 1845, 107, 1877, 575)]
b_layout = [(343, 837, 356, 866, 375, 1026), (619, 841, 647, 856, 619, 1098), (805, 844, 796, 860, 689, 1059), (1102, 847, 1133, 870, 1191, 1123),
            (1357, 845, 1360, 870, 1405, 1126), (1644, 841, 1670, 867, 1792, 1078), (1856, 847, 1880, 875, 1855, 1108)]
d_layout = [(248, 1629, 239, 1652, 253, 1871), (472, 1622, 477, 1649, 434, 1809), (665, 1626, 676, 1657, 741, 2020), (858, 1625, 881, 1650, 990, 1948),
            (1058, 1627, 1075, 1652, 1161, 1953), (1277, 1627, 1275, 1647, 1290, 1945), (1558, 1629, 1580, 1650, 1705, 1858), (1748, 1627, 1765, 1657, 1879, 1960)]
e_layout = [(339, 2411, 333, 2441, 351, 2723), (577, 2411, 572, 2445, 515, 2627), (797, 2414, 815, 2442, 798, 2733), (993, 2419, 1009, 2453, 988, 2696),
            (1263, 2409, 1277, 2462, 1322, 2687), (1607, 2414, 1633, 2447, 1705, 2733), (1836, 2413, 1853, 2460, 1853, 2700)]

W, H = 2714, 3140
DPI = 100
GAP = 5.4
AXIS_COL = "#5c5c5c"
TEXT_COL = "#222222"
SANS = ["Liberation Sans", "DejaVu Sans"]


def chr_starts():
    return np.concatenate([[0], np.cumsum(np.array(chr_sizes[:-1]) + GAP)])


def make_axes(fig, yline, data_x0, data_x1, ytop_px, y0_px, top):
    # axes run from the y axis line to the end of the last chromosome
    ax = fig.add_axes([yline / W, 1 - y0_px / H, (data_x1 - yline) / W, (y0_px - ytop_px) / H])
    total = chr_starts()[-1] + chr_sizes[-1]
    per_px = total / (data_x1 - data_x0)
    ax.set_xlim((yline - data_x0) * per_px, total)
    ax.set_ylim(0, top)
    ax.patch.set_alpha(0)
    for side in ["top", "right"]:
        ax.spines[side].set_visible(False)
    return ax, per_px


def finish_axes(ax, per_px, data_x0, axis_start, yticks, ylabels, ylab_size, ypad, ylen, xlab_size, xpad, xlen, show, offset):
    starts = chr_starts()
    centers = starts + np.array(chr_sizes) / 2
    chr_tick = (axis_start - data_x0) * per_px
    ax.set_xticks(np.concatenate([[chr_tick], centers]))
    ax.set_xticklabels(["Chr"] + [n if n in show else "" for n in chr_names])
    ax.set_yticks(yticks)
    ax.set_yticklabels(ylabels)
    ax.spines["left"].set_color(AXIS_COL)
    ax.spines["left"].set_linewidth(1.8)
    ax.spines["bottom"].set_color(AXIS_COL)
    ax.spines["bottom"].set_linewidth(1.8)
    ax.spines["bottom"].set_position(("outward", offset * 0.72))
    ax.spines["bottom"].set_bounds(chr_tick, starts[-1] + chr_sizes[-1])
    ax.tick_params(axis="y", length=ylen * 0.72, width=1.8, color=AXIS_COL, pad=ypad * 0.72)
    ax.tick_params(axis="x", length=xlen * 0.72, width=1.8, color=AXIS_COL, pad=xpad * 0.72)
    for t in ax.get_yticklabels() + ax.get_xticklabels():
        t.set_fontweight("bold")
        t.set_family(SANS)
        t.set_color(TEXT_COL)
    for t in ax.get_yticklabels():
        t.set_fontsize(ylab_size)
    for t in ax.get_xticklabels():
        t.set_fontsize(xlab_size)


def draw_fst(ax, tops, dots, size, cloud=None):
    starts = chr_starts()
    for i in range(18):
        edges = starts[i] + np.linspace(0, chr_sizes[i], len(tops[i]) + 1)
        ax.stairs(tops[i], edges, baseline=0, fill=True, color=chr_colors[i], lw=0)
        pts = list(dots[i])
        if cloud is not None:
            pts = pts + cloud[i]
        ax.scatter([starts[i] + p[0] for p in pts], [p[1] for p in pts], s=size,
                   color=chr_colors[i], linewidths=0, clip_on=False, zorder=3)


def draw_xpehh(ax, tops, spikes, slits, dots):
    starts = chr_starts()
    for i in range(18):
        edges = starts[i] + np.linspace(0, chr_sizes[i], len(tops[i]) + 1)
        ax.stairs(tops[i], edges, baseline=0, fill=True, color=chr_colors[i], lw=0)
        for pos, low in slits[i]:
            ax.vlines(starts[i] + pos, low, 2.4, color="white", lw=1.3, zorder=2)
        if spikes[i]:
            ax.vlines([starts[i] + p[0] for p in spikes[i]], 0.5, [p[1] for p in spikes[i]],
                      color=chr_colors[i], lw=1.7, alpha=0.8, zorder=3)
        if dots[i]:
            ax.scatter([starts[i] + p[0] for p in dots[i]], [p[1] for p in dots[i]], s=8,
                       color=chr_colors[i], linewidths=0, zorder=3)


plt.rcParams["font.family"] = SANS
fig = plt.figure(figsize=(W / DPI, H / DPI), dpi=DPI, facecolor="white")

all_labels = chr_names
short_labels = [n for n in chr_names if n not in ("11", "17")]

ax_a, per_a = make_axes(fig, 163, 169, 1939, 36, 688, 0.6)
draw_fst(ax_a, a_tops, a_dots, 20)
finish_axes(ax_a, per_a, 169, 163, [0, .1, .2, .3, .4, .5, .6], ["0.0", "0.1", "0.2", "0.3", "0.4", "0.5", "0.6"],
            19, 8, 15, 18, 21, 16, all_labels, 25)

ax_b, per_b = make_axes(fig, 171, 244, 1936, 816, 1433, 3.0)
draw_xpehh(ax_b, b_tops, b_spikes, b_slits, b_dots)
finish_axes(ax_b, per_b, 244, 238, [0, .5, 1, 1.5, 2, 2.5, 3], ["0.0", "0.5", "1.0", "1.5", "2.0", "2.5", "3.0"],
            24, 24, 21, 24, 32, 22, short_labels, 25)

ax_d, per_d = make_axes(fig, 159, 167, 1936, 1590, 2241, 1.0)
draw_fst(ax_d, d_tops, d_dots, 22, d_cloud)
finish_axes(ax_d, per_d, 167, 159, [0, .2, .4, .6, .8, 1], ["0.0", "0.2", "0.4", "0.6", "0.8", "1.0"],
            19, 14, 14, 18, 21, 18, all_labels, 25)

ax_e, per_e = make_axes(fig, 180, 253, 1929, 2391, 3003, 4)
draw_xpehh(ax_e, e_tops, e_spikes, e_slits, e_dots)
finish_axes(ax_e, per_e, 253, 247, [0, 1, 2, 3, 4], ["0", "1", "2", "3", "4"],
            24, 23, 20, 24, 31, 21, short_labels, 26)

# overlay in image pixels for labels, leaders and the venn diagrams
ov = fig.add_axes([0, 0, 1, 1], zorder=10)
ov.set_xlim(0, W)
ov.set_ylim(H, 0)
ov.axis("off")
ov.patch.set_alpha(0)


def gene_labels(genes, layout, size):
    for name, (lx, ly, x0, y0, x1, y1) in zip(genes, layout):
        ov.text(lx, ly, name, ha="center", va="center", fontsize=size, color=TEXT_COL, family=["Open Sans", "DejaVu Sans"])
        ov.plot([x0, x1], [y0, y1], color="#404040", lw=1.8, solid_capstyle="butt")


gene_labels(a_genes, a_layout, 29.5)
gene_labels(b_genes, b_layout, 39)
gene_labels(d_genes, d_layout, 28.5)
gene_labels(e_genes, e_layout, 38)

# panel letters
for letter, x, y in [("A", 56, 78), ("B", 46, 843), ("C", 2076, 78), ("D", 54, 1614), ("E", 52, 2417), ("F", 2074, 1614)]:
    ov.text(x, y, letter, ha="center", va="center", fontsize=62, color="#111111", family=["Liberation Serif", "DejaVu Serif"])

# axis titles
for text, x, y, size in [("FST", 67, 366, 33), ("XPEHH", 57, 1126, 38), ("FST", 64, 1918, 33), ("XPEHH", 71, 2697, 39)]:
    ov.text(x, y, text, ha="center", va="center", rotation=90, fontsize=size, color=TEXT_COL, family=SANS)


def venn(top_xywh, bottom_xywh, names, counts, pos, size, cols):
    edge_top = "#a98585"
    edge_bot = "#8f9ba5"
    (tx, ty, tw, th), (bx, by, bw, bh) = top_xywh, bottom_xywh
    ov.add_patch(Ellipse((bx, by), bw, bh, fc="#C9E6FB", ec=edge_bot, lw=2.2))
    ov.add_patch(Ellipse((tx, ty), tw, th, fc="#FFBDBD", ec=edge_top, lw=2.2))
    overlap = Ellipse((bx, by), bw, bh, fc="#F9D6DC", ec="none")
    ov.add_patch(overlap)
    overlap.set_clip_path(Ellipse((tx, ty), tw, th, transform=ov.transData))
    ov.add_patch(Ellipse((tx, ty), tw, th, fc="none", ec=edge_top, lw=2.2))
    ov.add_patch(Ellipse((bx, by), bw, bh, fc="none", ec=edge_bot, lw=2.2))
    texts = [names[0], str(counts[0]), str(counts[2]), names[1], str(counts[1])]
    for s, (x, y), c in zip(texts, pos, cols):
        ov.text(x, y, s, ha="center", va="center", fontsize=size, fontweight="bold", color=c, family="DejaVu Sans")


venn((2357, 512, 656, 660), (2357, 904, 615, 622), c_names, c_counts,
     [(2359, 414), (2347, 479), (2359, 713), (2360, 974), (2352, 1038)], 26,
     ["#3d1a22", "#3d1a22", "#2a1a20", "#15263f", "#15263f"])
venn((2335, 1993, 568, 556), (2335, 2352, 534, 521), f_names, f_counts,
     [(2334, 1934), (2334, 1989), (2338, 2192), (2339, 2413), (2341, 2467)], 23,
     ["#3d1a22", "#3d1a22", "#2a1a20", "#15263f", "#15263f"])

fig.savefig("out.png", dpi=DPI, facecolor="white")
